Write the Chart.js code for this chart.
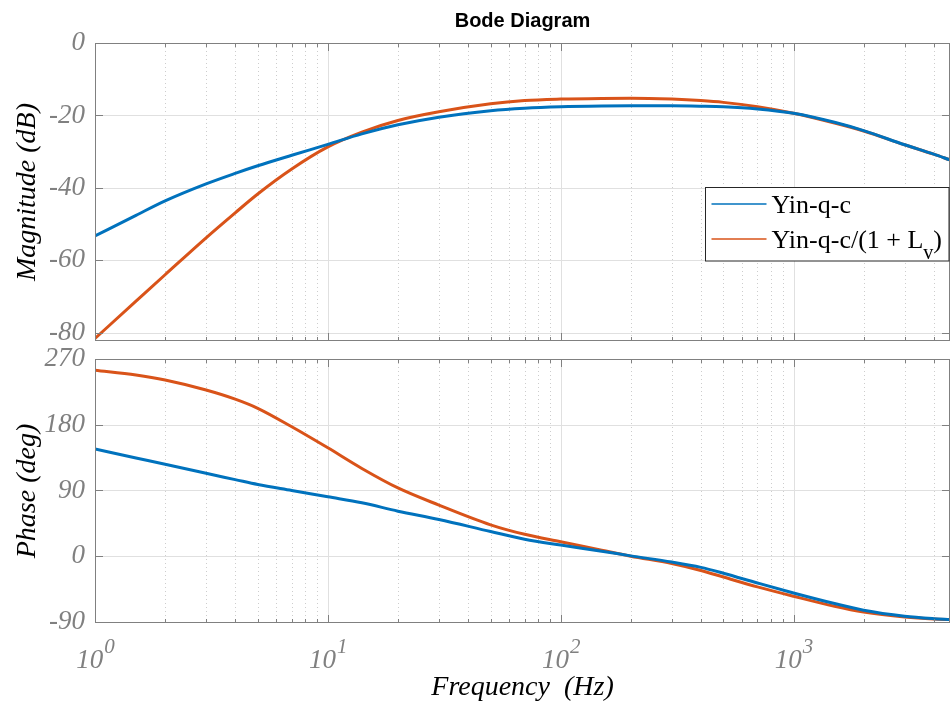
<!DOCTYPE html>
<html>
<head>
<meta charset="utf-8">
<title>Bode Diagram</title>
<script src="https://cdn.jsdelivr.net/npm/chart.js@4.4.1/dist/chart.umd.min.js"></script>
<style>
  body { margin: 0; background: #fff; }
  #wrap { position: relative; width: 951px; height: 707px; }
  #wrap canvas { position: absolute; left: 0; }
  #mag { top: 0; }
  #phase { top: 345px; }
</style>
</head>
<body>
<div id="wrap">
  <canvas id="mag" width="951" height="345"></canvas>
  <canvas id="phase" width="951" height="362"></canvas>
</div>
<script>
// --- Frequency response data ---
const freqHz = [1, 1.5, 2, 3, 4, 5, 7, 10, 14, 20, 30, 50, 70, 100, 150, 200, 300, 400, 500, 700, 1000, 1500, 2000, 3000, 4000, 4700];

// magnitude (dB)
const magYin   = [-53.3, -47.6, -43.6, -38.9, -36.0, -33.9, -31.0, -28.0, -25.1, -22.6, -20.5, -18.7, -18.0, -17.6, -17.4, -17.35, -17.35, -17.45, -17.6, -18.2, -19.4, -21.9, -24.2, -28.1, -30.7, -32.3];
const magYinLv = [-81.6, -71.3, -64.0, -53.8, -46.9, -41.7, -34.8, -28.7, -24.6, -21.4, -19.0, -16.8, -15.9, -15.5, -15.3, -15.25, -15.5, -15.9, -16.4, -17.6, -19.4, -22.1, -24.3, -28.1, -30.7, -32.3];

// phase (deg)
const phaseYin   = [146.7, 134.5, 125.9, 113.5, 104.9, 98.2, 90.0, 81.3, 73.1, 61.7, 50.3, 33.8, 23.3, 15.3, 6.9, 0.5, -8.0, -15.3, -23.3, -36.6, -50.3, -64.8, -74.0, -82.2, -85.5, -86.7];
const phaseYinLv = [254.5, 248.0, 241.2, 227.5, 215.0, 202.5, 177.2, 148.4, 120.2, 93.5, 70.0, 43.0, 30.0, 19.7, 8.2, 0.0, -10.0, -19.5, -28.5, -42.0, -54.8, -68.5, -76.3, -83.1, -85.9, -86.7];

const seriesNames = ['Yin-q-c', 'Yin-q-c/(1 + L_v)'];
const decadeTicks = [1, 10, 100, 1000];
const magTicks = [-80, -60, -40, -20, 0];
const phaseTicks = [-90, 0, 90, 180, 270];

const BLUE = '#0072BD';
const ORANGE = '#D95319';
const SERIF = "'Liberation Serif', 'Times New Roman', serif";
const SANS = "'Liberation Sans', Arial, sans-serif";
const F_MIN = 1, F_MAX = 4700;

// minor log grid positions (2..9 of every decade)
const minorTicks = [];
decadeTicks.forEach(d => {
  for (let m = 2; m <= 9; m++) {
    if (d * m < F_MAX) minorTicks.push(d * m);
  }
});

function toPoints(values) {
  return freqHz.map((f, i) => ({ x: f, y: values[i] }));
}

// --- MATLAB style grid, box and inward ticks ---
function drawGrid(chart, yTicks) {
  const { ctx, chartArea: a, scales: { x, y } } = chart;
  ctx.save();
  ctx.lineWidth = 1;

  ctx.strokeStyle = '#cdcdcd';
  ctx.setLineDash([1, 3]);
  minorTicks.forEach(v => {
    const px = Math.round(x.getPixelForValue(v)) + 0.5;
    ctx.beginPath(); ctx.moveTo(px, a.top); ctx.lineTo(px, a.bottom); ctx.stroke();
  });

  ctx.setLineDash([]);
  ctx.strokeStyle = '#e0e0e0';
  decadeTicks.forEach(v => {
    const px = Math.round(x.getPixelForValue(v)) + 0.5;
    ctx.beginPath(); ctx.moveTo(px, a.top); ctx.lineTo(px, a.bottom); ctx.stroke();
  });
  yTicks.forEach(v => {
    const py = Math.round(y.getPixelForValue(v)) + 0.5;
    ctx.beginPath(); ctx.moveTo(a.left, py); ctx.lineTo(a.right, py); ctx.stroke();
  });
  ctx.restore();
}

function drawBox(chart, yTicks) {
  const { ctx, chartArea: a, scales: { x, y } } = chart;
  ctx.save();
  ctx.strokeStyle = '#808080';
  ctx.lineWidth = 1;
  ctx.strokeRect(a.left + 0.5, a.top + 0.5, a.right - a.left - 1, a.bottom - a.top - 1);

  const tick = (px, len) => {
    ctx.beginPath();
    ctx.moveTo(px, a.top); ctx.lineTo(px, a.top + len);
    ctx.moveTo(px, a.bottom); ctx.lineTo(px, a.bottom - len);
    ctx.stroke();
  };
  minorTicks.forEach(v => tick(Math.round(x.getPixelForValue(v)) + 0.5, 4));
  decadeTicks.forEach(v => tick(Math.round(x.getPixelForValue(v)) + 0.5, 8));
  yTicks.forEach(v => {
    const py = Math.round(y.getPixelForValue(v)) + 0.5;
    ctx.beginPath();
    ctx.moveTo(a.left, py); ctx.lineTo(a.left + 8, py);
    ctx.moveTo(a.right, py); ctx.lineTo(a.right - 8, py);
    ctx.stroke();
  });
  ctx.restore();
}

// 10^n labels under the frequency axis
function drawDecadeLabels(chart) {
  const { ctx, chartArea: a, scales: { x } } = chart;
  const base = a.bottom + 45;
  ctx.save();
  ctx.fillStyle = '#808080';
  ctx.textBaseline = 'alphabetic';
  ctx.textAlign = 'left';
  decadeTicks.forEach(v => {
    const mant = '10';
    const exp = String(Math.round(Math.log10(v)));
    ctx.font = `italic 27px ${SERIF}`;
    const w1 = ctx.measureText(mant).width;
    ctx.font = `italic 21px ${SERIF}`;
    const w2 = ctx.measureText(exp).width;
    const x0 = x.getPixelForValue(v) - (w1 + w2) / 2;
    ctx.font = `italic 27px ${SERIF}`;
    ctx.fillText(mant, x0, base);
    ctx.font = `italic 21px ${SERIF}`;
    ctx.fillText(exp, x0 + w1 + 1, base - 15);
  });
  ctx.restore();
}

// text runs with "_x" read as a subscript
function drawRich(ctx, text, x, y) {
  const parts = text.split(/_(\w)/);
  let cx = x;
  parts.forEach((p, i) => {
    const sub = i % 2 === 1;
    ctx.font = sub ? `20px ${SERIF}` : `26px ${SERIF}`;
    ctx.fillText(p, cx, sub ? y + 11 : y);
    cx += ctx.measureText(p).width;
  });
}

const magDecor = {
  id: 'magDecor',
  beforeDatasetsDraw(chart) { drawGrid(chart, magTicks); },
  afterDatasetsDraw(chart) { drawBox(chart, magTicks); },
  afterDraw(chart) {
    const { ctx, chartArea: a } = chart;
    ctx.save();
    // title
    ctx.fillStyle = '#000';
    ctx.font = `bold 20px ${SANS}`;
    ctx.textAlign = 'center';
    ctx.textBaseline = 'alphabetic';
    ctx.fillText('Bode Diagram', (a.left + a.right) / 2, 27);

    // legend
    const bx = 705.5, by = 187.5, bw = 243.5, bh = 73.5;
    ctx.fillStyle = '#fff';
    ctx.fillRect(bx, by, bw, bh);
    ctx.strokeStyle = '#262626';
    ctx.lineWidth = 1;
    ctx.strokeRect(bx, by, bw, bh);
    ctx.textAlign = 'left';
    chart.data.datasets.forEach((ds, i) => {
      const ly = by + 16.5 + i * 35;
      ctx.strokeStyle = ds.borderColor;
      ctx.lineWidth = 1.5;
      ctx.beginPath(); ctx.moveTo(bx + 6, ly); ctx.lineTo(bx + 61, ly); ctx.stroke();
      ctx.fillStyle = '#000';
      drawRich(ctx, ds.label, bx + 66, ly + 9);
    });
    ctx.restore();
  }
};

const phaseDecor = {
  id: 'phaseDecor',
  beforeDatasetsDraw(chart) { drawGrid(chart, phaseTicks); },
  afterDatasetsDraw(chart) { drawBox(chart, phaseTicks); },
  afterDraw(chart) { drawDecadeLabels(chart); }
};

function lineSet(label, values, color) {
  return {
    label,
    data: toPoints(values),
    borderColor: color,
    backgroundColor: color,
    borderWidth: 3,
    pointRadius: 0,
    cubicInterpolationMode: 'monotone',
    fill: false
  };
}

function makeOptions(cfg) {
  return {
    responsive: false,
    animation: false,
    layout: { padding: cfg.padding },
    plugins: { legend: { display: false }, tooltip: { enabled: false } },
    scales: {
      x: {
        type: 'logarithmic',
        min: F_MIN,
        max: F_MAX,
        display: cfg.showX,
        grid: { display: false, drawTicks: false },
        border: { display: false },
        ticks: { display: false },
        title: {
          display: cfg.showX,
          text: 'Frequency  (Hz)',
          color: '#000',
          font: { family: SERIF, size: 28, style: 'italic' },
          padding: { top: 0, bottom: 3 }
        },
        afterFit: s => {
          s.height = cfg.xHeight;
          s.paddingLeft = 0;
          s.paddingRight = 0;
        }
      },
      y: {
        type: 'linear',
        min: cfg.yMin,
        max: cfg.yMax,
        afterBuildTicks: s => { s.ticks = cfg.yTicks.map(v => ({ value: v })); },
        grid: { display: false, drawTicks: false },
        border: { display: false },
        ticks: {
          color: '#808080',
          padding: 10,
          font: { family: SERIF, size: 27, style: 'italic' },
          callback: v => String(v)
        },
        title: {
          display: true,
          text: cfg.yTitle,
          color: '#000',
          font: { family: SERIF, size: 28, style: 'italic' },
          padding: { top: 11, bottom: 0 }
        },
        afterFit: s => {
          // keep the plot box fixed; end labels may overhang it
          s.width = 95;
          s.paddingTop = 0;
          s.paddingBottom = 0;
        }
      }
    }
  };
}

new Chart(document.getElementById('mag'), {
  type: 'line',
  data: {
    datasets: [
      lineSet(seriesNames[0], magYin, BLUE),
      lineSet(seriesNames[1], magYinLv, ORANGE)
    ]
  },
  options: makeOptions({
    padding: { top: 43, right: 1, bottom: 4, left: 0 },
    showX: false, xHeight: 0,
    yMin: -82.3, yMax: 0, yTicks: magTicks,
    yTitle: 'Magnitude (dB)'
  }),
  plugins: [magDecor]
});

new Chart(document.getElementById('phase'), {
  type: 'line',
  data: {
    datasets: [
      lineSet(seriesNames[0], phaseYin, BLUE),
      lineSet(seriesNames[1], phaseYinLv, ORANGE)
    ]
  },
  options: makeOptions({
    padding: { top: 14, right: 1, bottom: 0, left: 0 },
    showX: true, xHeight: 84,
    yMin: -91.4, yMax: 270, yTicks: phaseTicks,
    yTitle: 'Phase (deg)'
  }),
  plugins: [phaseDecor]
});
</script>
</body>
</html>
